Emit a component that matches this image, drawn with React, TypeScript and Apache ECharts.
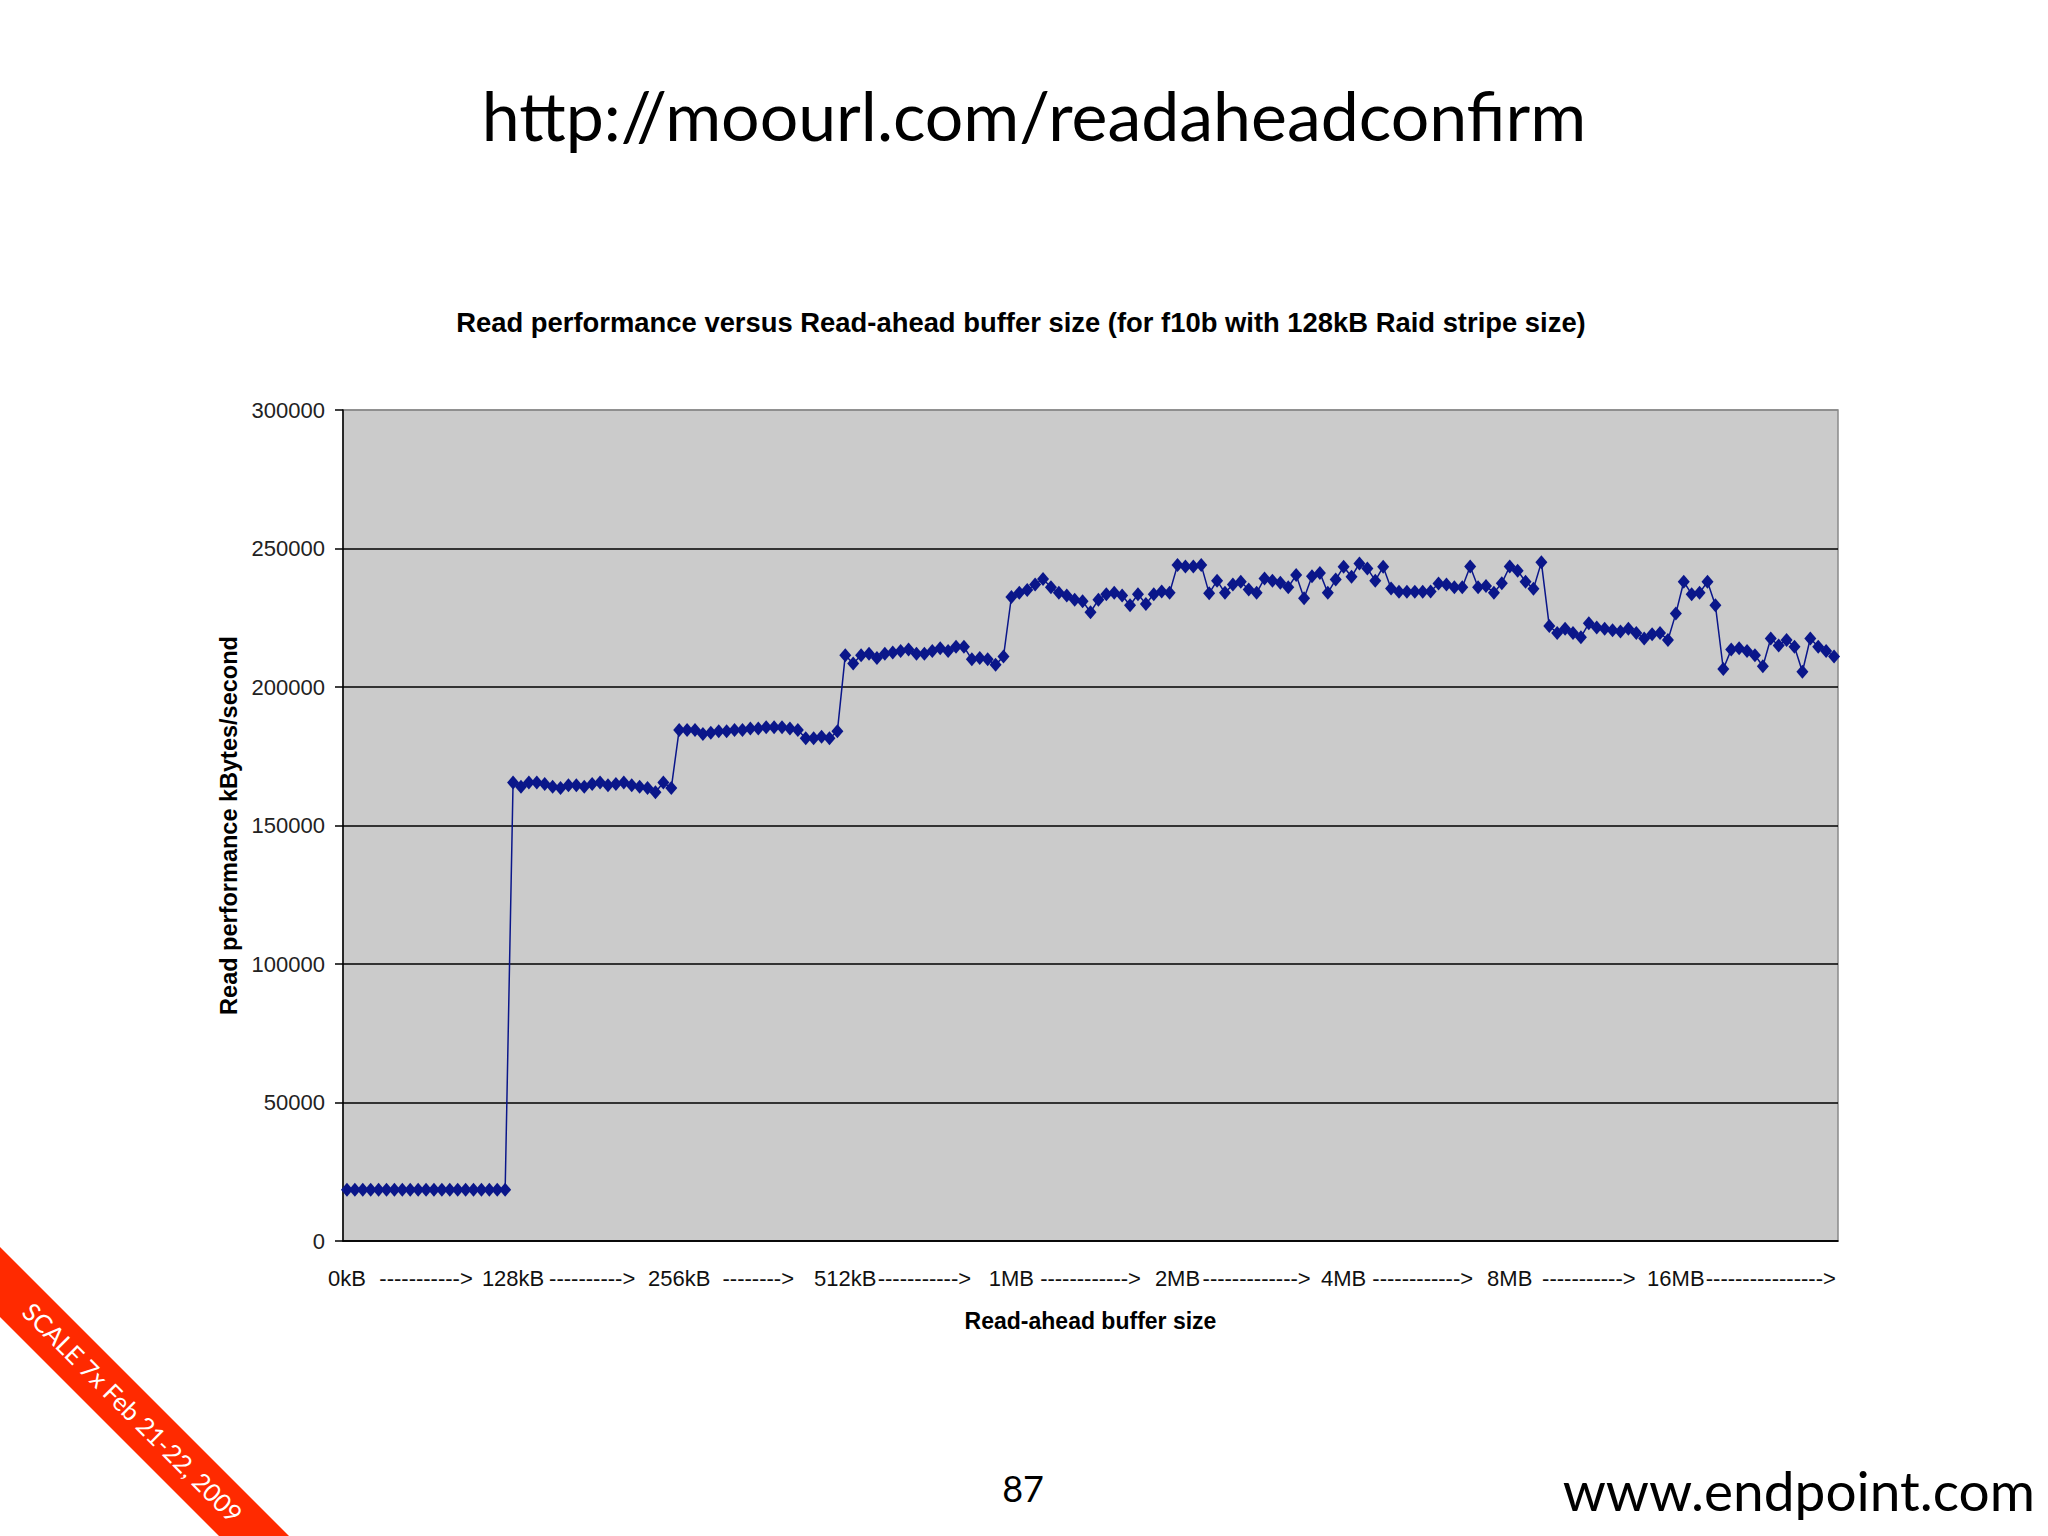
import React, { useEffect, useRef } from 'react';
import * as echarts from 'echarts';

// Read performance (kBytes/second), 21 measurements per doubling of the read-ahead buffer
const perf0to128kB = [
  18500, 18500, 18500, 18500, 18500, 18500, 18500, 18500, 18500, 18500, 18500,
  18500, 18500, 18500, 18500, 18500, 18500, 18500, 18500, 18500, 18500,
];
const perf128to256kB = [
  165500, 164000, 165500, 165500, 165000, 164000, 163500, 164500, 164500, 164000, 165000,
  165500, 164500, 165000, 165500, 164500, 164000, 163500, 162000, 165500, 163500,
];
const perf256to512kB = [
  184500, 184500, 184500, 183000, 183500, 184000, 184000, 184500, 184500, 185000, 185000,
  185500, 185500, 185500, 185000, 184500, 181500, 181500, 182000, 181500, 184000,
];
const perf512kBto1MB = [
  211500, 208500, 211500, 212000, 210500, 212000, 212500, 213000, 213500, 212000, 212000,
  213000, 214000, 213000, 214500, 214500, 210000, 210500, 210000, 208000, 211000,
];
const perf1to2MB = [
  232500, 234000, 235000, 237000, 239000, 236000, 234000, 233000, 231500, 231000, 227000,
  231500, 233500, 234000, 233000, 229500, 233500, 230000, 233500, 234500, 234000,
];
const perf2to4MB = [
  244000, 243500, 243500, 244000, 233800, 238400, 234000, 237000, 238000, 235200, 234000,
  239200, 238400, 237600, 236000, 240400, 232000, 240000, 241200, 234000, 238800,
];
const perf4to8MB = [
  243400, 239800, 244600, 242800, 238400, 243400, 235600, 234400, 234400, 234400, 234400,
  234500, 237400, 237000, 236000, 236000, 243500, 236000, 236500, 234000, 237500,
];
const perf8to16MB = [
  243500, 242000, 238000, 235500, 245000, 222000, 219500, 221000, 219500, 218000, 223000,
  221500, 221000, 220500, 220000, 221000, 219500, 217500, 219000, 219500, 217000,
];
const perf16MBplus = [
  226500, 238000, 233500, 234000, 238000, 229500, 206500, 213500, 214000, 213000, 211500,
  207500, 217500, 215000, 217000, 214500, 205500, 217500, 214500, 213000, 211000,
];

const pointsPerStep = 21;
const stepLabels = ['0kB', '128kB', '256kB', '512kB', '1MB', '2MB', '4MB', '8MB', '16MB'];
const stepArrows = [
  '----------->',
  '---------->',
  '-------->',
  '----------->',
  '------------>',
  '------------->',
  '------------>',
  '----------->',
  '---------------->',
];

const yMin = 0;
const yMax = 300000;
const yInterval = 50000;

const chartTitle = 'Read performance versus Read-ahead buffer size (for f10b with 128kB Raid stripe size)';
const yAxisTitle = 'Read performance kBytes/second';
const xAxisTitle = 'Read-ahead buffer size';
const slideUrl = 'http://moourl.com/readaheadconfirm';
const pageNumber = '87';
const footerUrl = 'www.endpoint.com';
const bannerText = 'SCALE 7x Feb 21-22, 2009';

export default function App() {
  const ref = useRef<HTMLDivElement>(null);

  useEffect(() => {
    if (!ref.current) return;
    const chart = echarts.init(ref.current, null, { renderer: 'svg' });

    const values = [
      ...perf0to128kB,
      ...perf128to256kB,
      ...perf256to512kB,
      ...perf512kBto1MB,
      ...perf1to2MB,
      ...perf2to4MB,
      ...perf4to8MB,
      ...perf8to16MB,
      ...perf16MBplus,
    ];
    const categories = values.map((_, i) => String(i));

    const labelAt = new Map<number, string>();
    stepLabels.forEach((t, k) => labelAt.set(k * pointsPerStep, t));
    stepArrows.forEach((t, k) =>
      labelAt.set(k * pointsPerStep + (k === stepArrows.length - 1 ? 12 : 10), t)
    );

    const axisFont = 'Liberation Sans, Arial, sans-serif';
    const slideFont = 'Lato, "Open Sans", sans-serif';
    const navy = '#0a168a';

    chart.setOption({
      animation: false,
      backgroundColor: '#ffffff',
      grid: {
        left: 343,
        top: 410,
        right: 210,
        bottom: 295,
        show: true,
        backgroundColor: '#cbcbcb',
        borderColor: '#8a8a8a',
        borderWidth: 1.5,
      },
      xAxis: {
        type: 'category',
        data: categories,
        boundaryGap: true,
        axisLine: { show: true, lineStyle: { color: '#000', width: 1.5 } },
        axisTick: { show: false },
        axisLabel: {
          interval: 0,
          margin: 26,
          fontFamily: axisFont,
          fontSize: 22,
          color: '#111',
          formatter: (_v: string, idx: number) => labelAt.get(idx) ?? '',
        },
        splitLine: { show: false },
        name: xAxisTitle,
        nameLocation: 'middle',
        nameGap: 68,
        nameTextStyle: { fontFamily: axisFont, fontSize: 23, fontWeight: 'bold', color: '#000' },
      },
      yAxis: {
        type: 'value',
        min: yMin,
        max: yMax,
        interval: yInterval,
        axisLine: { show: true, lineStyle: { color: '#000', width: 1.5 } },
        axisTick: { show: true, inside: false, length: 8, lineStyle: { color: '#000', width: 1.5 } },
        axisLabel: {
          margin: 18,
          fontFamily: axisFont,
          fontSize: 22,
          color: '#222',
          formatter: (v: number) => String(v),
        },
        splitLine: {
          show: true,
          lineStyle: {
            color: ['#000', '#000', '#000', '#000', '#000', '#000', '#8a8a8a'],
            width: 1.5,
          },
        },
        name: yAxisTitle,
        nameLocation: 'middle',
        nameGap: 101,
        nameRotate: 90,
        nameTextStyle: { fontFamily: axisFont, fontSize: 23.5, fontWeight: 'bold', color: '#000' },
      },
      series: [
        {
          type: 'line',
          data: values,
          symbol: 'diamond',
          symbolSize: [12, 14],
          showSymbol: true,
          showAllSymbol: true,
          silent: true,
          itemStyle: { color: navy },
          lineStyle: { color: navy, width: 1.5 },
          emphasis: { disabled: true },
        },
      ],
      graphic: [
        {
          type: 'text',
          x: 1034,
          y: 114,
          style: {
            text: slideUrl,
            font: `68px ${slideFont}`,
            fill: '#000',
            textAlign: 'center',
            textVerticalAlign: 'middle',
          },
        },
        {
          type: 'text',
          x: 1021,
          y: 322,
          style: {
            text: chartTitle,
            font: `bold 27.4px ${axisFont}`,
            fill: '#000',
            textAlign: 'center',
            textVerticalAlign: 'middle',
          },
        },
        {
          type: 'polygon',
          shape: {
            points: [
              [0, 1247],
              [289, 1536],
              [219, 1536],
              [0, 1317],
            ],
          },
          style: { fill: '#ff2a00' },
        },
        {
          type: 'text',
          x: 133,
          y: 1412,
          rotation: -Math.PI / 4,
          style: {
            text: bannerText,
            font: `25px ${slideFont}`,
            fill: '#fff',
            textAlign: 'center',
            textVerticalAlign: 'middle',
          },
        },
        {
          type: 'text',
          x: 1023,
          y: 1488,
          style: {
            text: pageNumber,
            font: `36px ${slideFont}`,
            fill: '#000',
            textAlign: 'center',
            textVerticalAlign: 'middle',
          },
        },
        {
          type: 'text',
          x: 2035,
          y: 1490,
          style: {
            text: footerUrl,
            font: `55px ${slideFont}`,
            fill: '#000',
            textAlign: 'right',
            textVerticalAlign: 'middle',
          },
        },
      ],
    });

    return () => chart.dispose();
  }, []);

  return (
    <div
      ref={ref}
      style={{ position: 'fixed', left: 0, top: 0, width: 2048, height: 1536, background: '#fff' }}
    />
  );
}
